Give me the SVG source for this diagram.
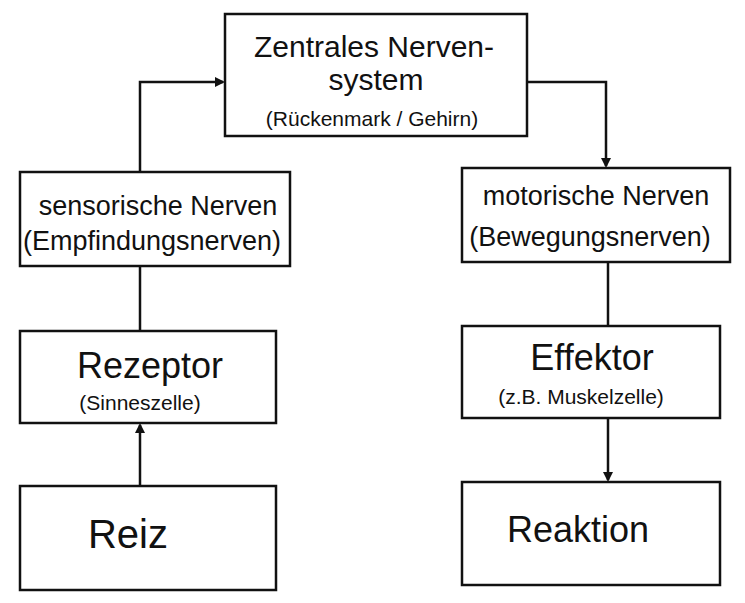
<svg xmlns="http://www.w3.org/2000/svg" width="745" height="603" viewBox="0 0 745 603">
<style>
.b{fill:none;stroke:#111;stroke-width:2.5}
.c{fill:none;stroke:#111;stroke-width:2.5}
text{font-family:"Liberation Sans",Arial,sans-serif;fill:#111;text-anchor:middle}
.l{font-size:36px}.m{font-size:27px}.s{font-size:21px}
</style>
<defs><marker id="a" markerWidth="10" markerHeight="10" refX="8" refY="5" orient="auto" markerUnits="userSpaceOnUse"><path d="M0,0L10,5L0,10z" fill="#111"/></marker></defs>
<rect width="745" height="603" fill="#fff"/>
<g id="connectors">
<path class="c" d="M140,172V82H223" marker-end="url(#a)"/>
<path class="c" d="M527,82H606V166" marker-end="url(#a)"/>
<path class="c" d="M140,266V331"/>
<path class="c" d="M140,486V425" marker-end="url(#a)"/>
<path class="c" d="M608,262V326"/>
<path class="c" d="M608,418V480" marker-end="url(#a)"/>
</g>
<g id="zns"><rect class="b" x="225" y="14" width="302" height="122"/>
<text style="font-size:30px" x="374" y="57">Zentrales Nerven-</text><text style="font-size:30px" x="376" y="90">system</text><text class="s" x="372" y="126">(Rückenmark / Gehirn)</text></g>
<g id="sensorisch"><rect class="b" x="20" y="172" width="270" height="94"/>
<text class="m" x="158" y="215">sensorische Nerven</text><text class="m" x="152" y="250">(Empfindungsnerven)</text></g>
<g id="motorisch"><rect class="b" x="462" y="168" width="268" height="94"/>
<text class="m" x="596" y="205">motorische Nerven</text><text class="m" x="590" y="246">(Bewegungsnerven)</text></g>
<g id="rezeptor"><rect class="b" x="20" y="331" width="256" height="92"/>
<text class="l" x="150" y="378">Rezeptor</text><text class="s" x="140" y="410">(Sinneszelle)</text></g>
<g id="effektor"><rect class="b" x="462" y="326" width="258" height="92"/>
<text class="l" x="592" y="370">Effektor</text><text class="s" x="581" y="404">(z.B. Muskelzelle)</text></g>
<g id="reiz"><rect class="b" x="20" y="486" width="256" height="104"/>
<text style="font-size:40px" x="128" y="548">Reiz</text></g>
<g id="reaktion"><rect class="b" x="462" y="482" width="258" height="103"/>
<text class="l" x="578" y="542">Reaktion</text></g>
</svg>
